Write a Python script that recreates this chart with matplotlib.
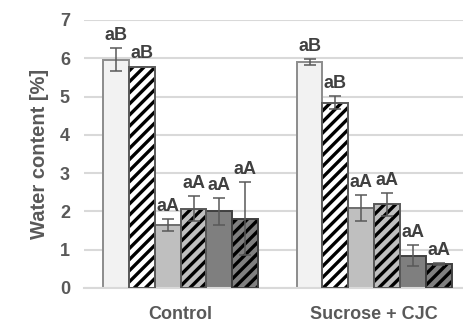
import numpy as np
import matplotlib.pyplot as plt

plt.rcParams['font.family'] = ['Liberation Sans', 'DejaVu Sans']
plt.rcParams['hatch.linewidth'] = 2.4

groups = ['Control', 'Sucrose + CJC']
# six series per group
values = [
    [5.96, 5.78, 1.64, 2.07, 2.00, 1.81],
    [5.90, 4.84, 2.09, 2.18, 0.84, 0.62],
]
errors = [
    [0.30, 0.00, 0.16, 0.33, 0.35, 0.95],
    [0.08, 0.17, 0.34, 0.30, 0.28, 0.02],
]
letters = [
    ['aB', 'aB', 'aA', 'aA', 'aA', 'aA'],
    ['aB', 'aB', 'aA', 'aA', 'aA', 'aA'],
]
face_colors = ['#f2f2f2', '#ffffff', '#bfbfbf', '#bfbfbf', '#7f7f7f', '#7f7f7f']
hatched = [False, True, False, True, False, True]
edge_colors = ['#8c8c8c', '#595959', '#6e6e6e', '#595959', '#404040', '#404040']

fig = plt.figure(figsize=(4.63, 3.22), dpi=100)
ax = fig.add_axes([0.181, 0.106, 0.819, 0.832])

n = len(face_colors)
width = 0.1335
x = np.arange(len(groups))
vals = np.array(values)
errs = np.array(errors)

for i in range(n):
    pos = x + (i - (n - 1) / 2) * width
    if hatched[i]:
        ax.bar(pos, vals[:, i], width, color=face_colors[i], edgecolor='black',
               hatch='///', linewidth=0, zorder=2)
        ax.bar(pos, vals[:, i], width, fill=False, edgecolor=edge_colors[i],
               linewidth=1.4, zorder=3)
    else:
        ax.bar(pos, vals[:, i], width, color=face_colors[i],
               edgecolor=edge_colors[i], linewidth=1.4, zorder=2)
    ax.errorbar(pos, vals[:, i], yerr=errs[:, i], fmt='none', ecolor='#595959',
                elinewidth=1.1, capsize=4.5, capthick=1.1, zorder=4)
    for g in range(len(groups)):
        ax.annotate(letters[g][i], (pos[g], vals[g, i] + errs[g, i]),
                    xytext=(0, 3), textcoords='offset points', ha='center',
                    va='bottom', fontsize=13, fontweight='bold',
                    color='#404040', zorder=5)

ax.set_ylim(0, 7)
ax.set_xlim(-0.5, 1.459)
ax.set_yticks(range(8))
ax.set_xticks(x)
ax.set_xticklabels(groups, fontsize=13, fontweight='bold', color='#595959')
ax.tick_params(axis='y', labelsize=13, labelcolor='#595959', length=0, pad=10)
ax.tick_params(axis='x', length=0, pad=13)
for lab in ax.get_yticklabels():
    lab.set_fontweight('bold')
ax.set_ylabel('Water content [%]', fontsize=14.5, fontweight='bold',
              color='#595959', labelpad=8)
ax.grid(axis='y', color='#d9d9d9', linewidth=1.5, zorder=0)
ax.set_axisbelow(True)
for s in ['top', 'right', 'left']:
    ax.spines[s].set_visible(False)
ax.spines['bottom'].set_color('#d9d9d9')
ax.spines['bottom'].set_linewidth(1.5)

fig.savefig('out.png', dpi=100)
